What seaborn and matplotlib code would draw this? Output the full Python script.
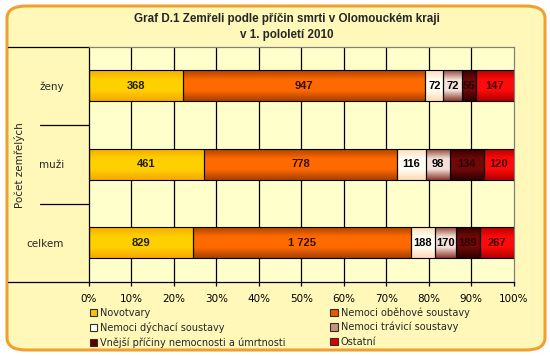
import numpy as np
import pandas as pd
import matplotlib
matplotlib.use("Agg")
import matplotlib.pyplot as plt
import seaborn as sns
from matplotlib.patches import FancyBboxPatch, Patch
from matplotlib.colors import LinearSegmentedColormap
import matplotlib.transforms as mtransforms

# ---- data ----
groups = ["ženy", "muži", "celkem"]
causes = ["Novotvary", "Nemoci oběhové soustavy", "Nemoci dýchací soustavy",
          "Nemoci trávicí soustavy", "Vnější příčiny nemocnosti a úmrtnosti", "Ostatní"]
novotvary = [368, 461, 829]
obehove = [947, 778, 1725]
dychaci = [72, 116, 188]
travici = [72, 98, 170]
vnejsi = [55, 134, 189]
ostatni = [147, 120, 267]
xticks = [0, 10, 20, 30, 40, 50, 60, 70, 80, 90, 100]
title = "Graf D.1 Zemřeli podle příčin smrti v Olomouckém kraji\nv 1. pololetí 2010"
ylabel = "Počet zemřelých"

values = np.array([novotvary, obehove, dychaci, travici, vnejsi, ostatni], dtype=float)
totals = values.sum(axis=0)
pct = values / totals * 100
cum_left = np.vstack([np.zeros(3), np.cumsum(pct, axis=0)[:-1]])

# colours: (edge/dark, middle/bright)
grad = [("#F5A800", "#FFD000"),
        ("#A84000", "#FF6A00"),
        ("#FFD8B0", "#FFFFF5"),
        ("#8A3A2A", "#F4E0D8"),
        ("#300000", "#700808"),
        ("#B00000", "#FF0A0A")]
legend_cols = ["#FFC000", "#E85A00", "#FFFFFF", "#C89080", "#600000", "#E00000"]
text_cols = ["#202000", "#301000", "black", "black", "#280000", "#400000"]

sns.set_theme(style="white")
plt.rcParams["font.family"] = ["DejaVu Sans"]

fig = plt.figure(figsize=(5.5, 3.56), dpi=100)
fig.patch.set_facecolor("white")

# chart frame
frame = FancyBboxPatch((7 / 550, 6 / 356), 538 / 550, 344 / 356,
                       boxstyle="round,pad=0,rounding_size=0.035",
                       transform=fig.transFigure, facecolor="#FFF8B8",
                       edgecolor="#F0A030", linewidth=2.2, zorder=-5)
fig.patches.append(frame)

ax = fig.add_axes([89 / 550, 1 - 282 / 356, 424.5 / 550, 235.5 / 356])
ax.set_facecolor("#FFFFCC")

for i, cause in enumerate(causes):
    df = pd.DataFrame({"group": groups, "pct": pct[i]})
    sns.barplot(data=df, y="group", x="pct", order=groups, orient="h",
                left=cum_left[i], width=0.40, color=grad[i][1],
                edgecolor="black", linewidth=0.8, ax=ax, zorder=3)

ax.set_xlim(0, 100)
ax.set_ylim(2.5, -0.5)

# gradient fill for each bar
patches = list(ax.patches)
for k, p in enumerate(patches):
    i = k // 3
    cmap = LinearSegmentedColormap.from_list("g", [grad[i][0], grad[i][1], grad[i][1], grad[i][0]])
    x0, y0 = p.get_x(), p.get_y()
    w, h = p.get_width(), p.get_height()
    im = ax.imshow(np.linspace(0, 1, 64).reshape(-1, 1), cmap=cmap, aspect="auto",
                   extent=(x0, x0 + w, y0 + h, y0), zorder=2.5, interpolation="bilinear")
    im.set_clip_path(p)
    p.set_facecolor("none")
ax.set_xlim(0, 100)
ax.set_ylim(2.5, -0.5)

# data labels
for i in range(len(causes)):
    for j in range(len(groups)):
        v = int(values[i, j])
        lab = f"{v:,}".replace(",", " ")
        ax.text(cum_left[i, j] + pct[i, j] / 2, j, lab, ha="center", va="center",
                fontsize=8, fontweight="bold", color=text_cols[i],
                family=["Liberation Sans Narrow", "Liberation Sans"], zorder=5)

# grid & axes
ax.set_xticks(xticks)
ax.set_xticklabels([f"{t}%" for t in xticks], fontsize=7.5, color="black")
for t in xticks[1:-1]:
    ax.axvline(t, color="black", linewidth=0.9, zorder=1)
ax.tick_params(axis="x", length=3, width=0.9, color="black", pad=6, bottom=True)
ax.tick_params(axis="y", length=0, pad=18, labelsize=7.5)
ax.set_yticks(range(len(groups)))
ax.set_yticklabels(groups)
ax.set_xlabel("")
ax.set_ylabel("")
for s in ["left", "bottom"]:
    ax.spines[s].set_color("black")
    ax.spines[s].set_linewidth(0.9)
for s in ["top", "right"]:
    ax.spines[s].set_color("#808080")
    ax.spines[s].set_linewidth(0.9)

# category separators extending left
trans = mtransforms.blended_transform_factory(ax.transAxes, ax.transData)
for yv in [0.5, 1.5]:
    ax.plot([(40 - 89) / 424.5, 0], [yv, yv], color="black", lw=0.9,
            transform=trans, clip_on=False)
for yv in [-0.5, 2.5]:
    ax.plot([(8 - 89) / 424.5, 0], [yv, yv], color="black", lw=0.9,
            transform=trans, clip_on=False)

fig.text(20 / 550, 1 - 165 / 356, ylabel, rotation=90, ha="center", va="center",
         fontsize=7.5)
fig.text(287 / 550, 1 - 27 / 356, title, ha="center", va="center",
         fontsize=8.4, fontweight="bold", linespacing=1.5,
         family=["Liberation Sans Narrow", "Liberation Sans"])

handles = [Patch(facecolor=legend_cols[i], edgecolor="#303030", linewidth=0.8) for i in range(6)]
order = [0, 2, 4, 1, 3, 5]
leg = fig.legend([handles[i] for i in order], [causes[i] for i in order], ncol=2,
                 loc="upper left", bbox_to_anchor=(90 / 550, 1 - 307 / 356),
                 frameon=False, fontsize=7, handlelength=0.75, handleheight=0.75,
                 handletextpad=0.3, labelspacing=0.45, columnspacing=4.6,
                 borderaxespad=0, borderpad=0)

fig.savefig("out.png", dpi=100, facecolor="white")
